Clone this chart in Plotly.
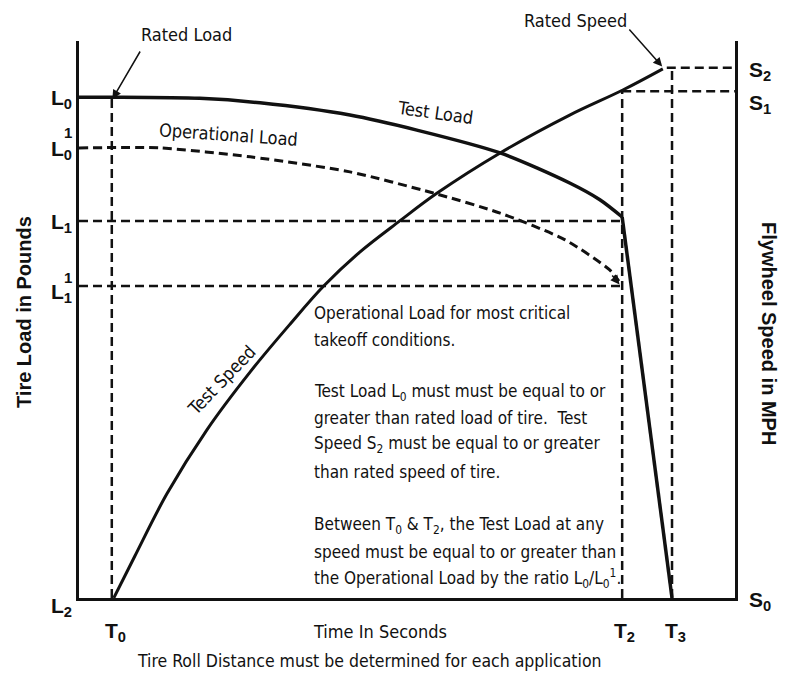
import plotly.graph_objects as go

# ---------------- data (chart units: time 0-100, load / speed 0-100) ----------------
T0, T2, T3 = 5.0, 82.8, 90.4
L0, L0_op, L1, L1_op, L2 = 89.9, 80.8, 67.7, 56.0, 0.0
S2, S1, S0 = 95.2, 91.0, 0.0

test_load_t = [0, 5.0, 18.4, 27.6, 41.3, 51.5, 64.2, 74.8, 79.4, 82.8]
test_load_v = [89.9, 89.9, 89.7, 88.9, 86.7, 84.0, 79.9, 74.5, 71.5, 68.4]
test_load_drop_t = [82.8, 90.4]
test_load_drop_v = [68.4, 0.0]

op_load_t = [0, 12.3, 26.1, 41.3, 54.0, 64.2, 74.1, 80.9, 82.3]
op_load_v = [80.8, 80.8, 79.2, 76.5, 72.7, 69.1, 64.3, 58.9, 56.9]

test_speed_t = [5.3, 8.5, 13.4, 19.5, 26.1, 32.2, 37.3, 42.8, 48.9, 54.6, 64.2, 74.8, 82.9, 89.0]
test_speed_v = [0, 7.5, 18.7, 30.2, 40.6, 49.2, 56.0, 62.1, 67.7, 72.7, 79.9, 86.7, 91.2, 95.0]

# ---------------- layout geometry ----------------
W, H = 787, 675
ML, MR, MT, MB = 79, 52, 41, 77
PW, PH = W - ML - MR, H - MT - MB


def X(px):
    return (px - ML) / PW * 100


def Y(py):
    return (H - MB - py) / PH * 100


def XP(px):
    return (px - ML) / PW


def YP(py):
    return (H - MB - py) / PH


NARROW = "Liberation Sans Narrow, Arial Narrow, DejaVu Sans Condensed, sans-serif"
ARIAL = "Liberation Sans, Arial, sans-serif"
INK = "#111111"

fig = go.Figure()

dash = "9px,5px"


def dline(xs, ys, width=2.5):
    fig.add_trace(go.Scatter(x=xs, y=ys, mode="lines",
                             line=dict(color=INK, width=width, dash=dash),
                             hoverinfo="skip", showlegend=False))


# reference (dashed) lines
dline([T0, T0], [L2, L0])
dline([0, T2], [L1, L1])
dline([0, T2], [L1_op, L1_op])
dline([T2, T2], [S0, S1])
dline([T3, T3], [S0, S2])
dline([T2, 100], [S1, S1])
dline([test_speed_t[-1] + 0.6, 100], [S2, S2])

# operational load (dashed curve)
fig.add_trace(go.Scatter(x=op_load_t, y=op_load_v, mode="lines",
                         line=dict(color=INK, width=3, dash=dash, shape="spline", smoothing=0.7),
                         hoverinfo="skip", showlegend=False))
# test load
fig.add_trace(go.Scatter(x=test_load_t, y=test_load_v, mode="lines",
                         line=dict(color=INK, width=3.5, shape="spline", smoothing=0.8),
                         hoverinfo="skip", showlegend=False))
fig.add_trace(go.Scatter(x=test_load_drop_t, y=test_load_drop_v, mode="lines",
                         line=dict(color=INK, width=3.5),
                         hoverinfo="skip", showlegend=False))
# test speed
fig.add_trace(go.Scatter(x=test_speed_t, y=test_speed_v, mode="lines",
                         line=dict(color=INK, width=3, shape="spline", smoothing=1.0),
                         hoverinfo="skip", showlegend=False))

anns = []


def txt(text, px, py, size=18, family=NARROW, xanchor="center", yanchor="middle", angle=0, weight="normal"):
    anns.append(dict(text=text, x=XP(px), y=YP(py), xref="paper", yref="paper",
                     showarrow=False, xanchor=xanchor, yanchor=yanchor,
                     textangle=angle,
                     font=dict(family=family, size=size, color=INK, weight=weight)))


def arrow(tx, ty, hx, hy, head=2):
    anns.append(dict(text="", x=hx, y=hy, ax=tx, ay=ty, xref="x", yref="y",
                     axref="x", ayref="y", showarrow=True, arrowhead=head,
                     arrowsize=1.2, arrowwidth=1.5, arrowcolor=INK, standoff=0))


# arrows
arrow(X(141), Y(50), T0 + 0.1, L0 - 0.3)
arrow(X(628), Y(28), test_speed_t[-1] - 0.1, S2 + 0.2)
arrow(X(611), Y(274), op_load_t[-1] + 0.1, op_load_v[-1] - 0.6)

# curve labels
txt("Rated Load", 186, 34)
txt("Rated Speed", 575, 20)
txt("Test Load", 435, 112, angle=8)
txt("Operational Load", 228, 134, angle=4)
txt("Test Speed", 221, 380, angle=-46)

# explanatory text block
lines = [
    ("Operational Load for most critical", 313),
    ("takeoff conditions.", 340),
    ("Test Load L<sub>0</sub> must must be equal to or", 392),
    ("greater than rated load of tire.  Test", 418),
    ("Speed S<sub>2</sub> must be equal to or greater", 445),
    ("than rated speed of tire.", 472),
    ("Between T<sub>0</sub> &amp; T<sub>2</sub>, the Test Load at any", 525),
    ("speed must be equal to or greater than", 552),
    ("the Operational Load by the ratio L<sub>0</sub>/L<sub>0</sub><sup>1</sup>.", 578),
]
for t, py in lines:
    txt(t, 312, py, size=17, xanchor="left")

# left tick-like labels
LS = 21
B = "bold"
txt("L<sub>0</sub>", 74, 99, size=LS, family=ARIAL, xanchor="right", weight=B)
txt("L<sub>0</sub>", 74, 150, size=LS, family=ARIAL, xanchor="right", weight=B)
txt("1", 68, 132, size=15, family=ARIAL, weight=B)
txt("L<sub>1</sub>", 74, 223, size=LS, family=ARIAL, xanchor="right", weight=B)
txt("L<sub>1</sub>", 74, 293, size=LS, family=ARIAL, xanchor="right", weight=B)
txt("1", 68, 277, size=15, family=ARIAL, weight=B)
txt("L<sub>2</sub>", 74, 607, size=LS, family=ARIAL, xanchor="right", weight=B)

# right tick-like labels
txt("S<sub>2</sub>", 747, 71, size=LS, family=ARIAL, xanchor="left", weight=B)
txt("S<sub>1</sub>", 747, 104, size=LS, family=ARIAL, xanchor="left", weight=B)
txt("S<sub>0</sub>", 747, 601, size=LS, family=ARIAL, xanchor="left", weight=B)

# bottom labels
txt("T<sub>0</sub>", 115, 632, size=LS, family=ARIAL, weight=B)
txt("T<sub>2</sub>", 624, 632, size=LS, family=ARIAL, weight=B)
txt("T<sub>3</sub>", 675, 632, size=LS, family=ARIAL, weight=B)
txt("Time In Seconds", 380, 631, size=18)
txt("Tire Roll Distance must be determined for each application", 369, 661, size=17.5)

# axis titles
txt("Tire Load in Pounds", 24, 312, size=20, family=ARIAL, angle=-90, weight=B)
txt("Flywheel Speed in MPH", 769, 333, size=20, family=ARIAL, angle=90, weight=B)

fig.update_layout(
    width=W, height=H, autosize=False,
    margin=dict(l=ML, r=MR, t=MT, b=MB, pad=0),
    paper_bgcolor="white", plot_bgcolor="white",
    showlegend=False,
    annotations=anns,
    xaxis=dict(range=[0, 100], showline=True, linecolor=INK, linewidth=3,
               showgrid=False, zeroline=False, showticklabels=False, ticks="",
               fixedrange=True),
    yaxis=dict(range=[0, 100], showline=True, mirror=True, linecolor=INK, linewidth=3,
               showgrid=False, zeroline=False, showticklabels=False, ticks="",
               fixedrange=True),
)

fig.write_html("out.html", config={"displayModeBar": False},
               post_script="document.body.style.margin='0';document.body.style.overflow='hidden';")
